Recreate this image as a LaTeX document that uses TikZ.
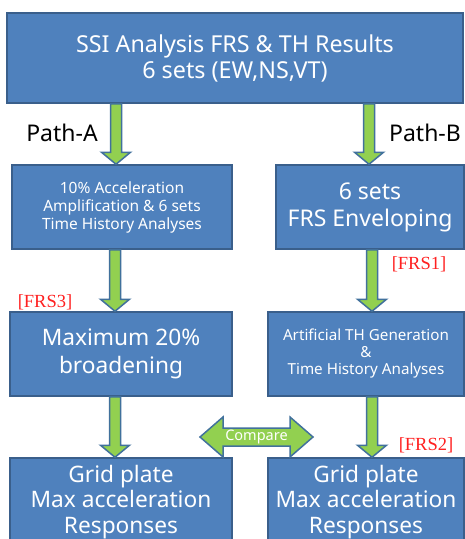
\documentclass[tikz,border=0pt]{standalone}
\usepackage{fontspec}
\setmainfont{Noto Sans}
\newfontfamily\serifred{Liberation Serif}
\usetikzlibrary{calc}
\definecolor{boxfill}{HTML}{4F81BD}
\definecolor{boxline}{HTML}{3A5F8B}
\definecolor{arrfill}{HTML}{92D050}
\definecolor{arrline}{HTML}{41719C}
\definecolor{frsred}{HTML}{FF2020}
\tikzset{
  box/.style={draw=boxline, line width=1.5pt, fill=boxfill, text=white, align=center, inner sep=0pt},
  garrow/.style={draw=arrline, line width=1.5pt, fill=arrfill, line join=miter},
  pathlbl/.style={font=\fontsize{23}{26}\selectfont, text=black},
  frs/.style={font=\serifred\fontsize{18.5}{20}\selectfont, text=frsred},
}
\newcommand\downarr[3]{%
  \draw[garrow] let \p1=(#2), \p2=(#3) in
    (#1pt-5.5pt,\y1) -- (#1pt+5.5pt,\y1) -- (#1pt+5.5pt,\y2+12pt) -- (#1pt+14.5pt,\y2+12pt)
    -- (#1pt,\y2) -- (#1pt-14.5pt,\y2+12pt) -- (#1pt-5.5pt,\y2+12pt) -- cycle;}
\begin{document}
\begin{tikzpicture}[x=1pt,y=-1pt]
\useasboundingbox (0,0) rectangle (465,539);
\clip (0,0) rectangle (465,539);
\fill[white] (0,0) rectangle (465,539);

\node[box, minimum width=456, minimum height=90, font=\fontsize{23.3}{26}\selectfont] (top) at (235,58)
  {SSI Analysis FRS \& TH Results\\6 sets (EW,NS,VT)};

\node[box, minimum width=220, minimum height=84, font=\fontsize{15.5}{18}\selectfont] (A1) at (122,207)
  {10\% Acceleration\\Amplification \& 6 sets\\Time History Analyses};
\node[box, minimum width=188, minimum height=84, font=\fontsize{23}{27}\selectfont] (B1) at (370,207)
  {6 sets\\FRS Enveloping};

\node[box, minimum width=222, minimum height=84, font=\fontsize{22.7}{28}\selectfont] (A2) at (121,354)
  {Maximum 20\%\\broadening};
\node[box, minimum width=196, minimum height=84, font=\fontsize{15.2}{17}\selectfont] (B2) at (366,354)
  {Artificial TH Generation\\\&\\Time History Analyses};

\node[box, minimum width=222, minimum height=88, font=\fontsize{22.7}{25.5}\selectfont] (A3) at (121,502)
  {Grid plate\\Max acceleration\\Responses};
\node[box, minimum width=196, minimum height=88, font=\fontsize{22.7}{25.5}\selectfont] (B3) at (366,502)
  {Grid plate\\Max acceleration\\Responses};

\node[pathlbl] (pa) at (62,133) {Path-A};
\node[pathlbl] (pb) at (425,133) {Path-B};

\node[frs] (f1) at (419,264) {[FRS1]};
\node[frs] (f3) at (45,302) {[FRS3]};
\node[frs] (f2) at (426,445) {[FRS2]};

\downarr{116}{top.south}{A1.north}
\downarr{369}{top.south}{B1.north}
\downarr{115}{A1.south}{A2.north}
\downarr{372}{B1.south}{B2.north}
\downarr{115}{A2.south}{A3.north}
\downarr{372}{B2.south}{B3.north}

\coordinate (cmp) at (256.5,437);
\draw[garrow] ($(cmp)+(-56.5,0)$) -- ($(cmp)+(-33.5,-20)$) -- ($(cmp)+(-33.5,-9)$) -- ($(cmp)+(33.5,-9)$)
  -- ($(cmp)+(33.5,-20)$) -- ($(cmp)+(56.5,0)$) -- ($(cmp)+(33.5,20)$) -- ($(cmp)+(33.5,9)$)
  -- ($(cmp)+(-33.5,9)$) -- ($(cmp)+(-33.5,20)$) -- cycle;
\node[text=white, font=\fontsize{14.5}{16}\selectfont] (cmptxt) at (cmp) {Compare};
\end{tikzpicture}
\end{document}
